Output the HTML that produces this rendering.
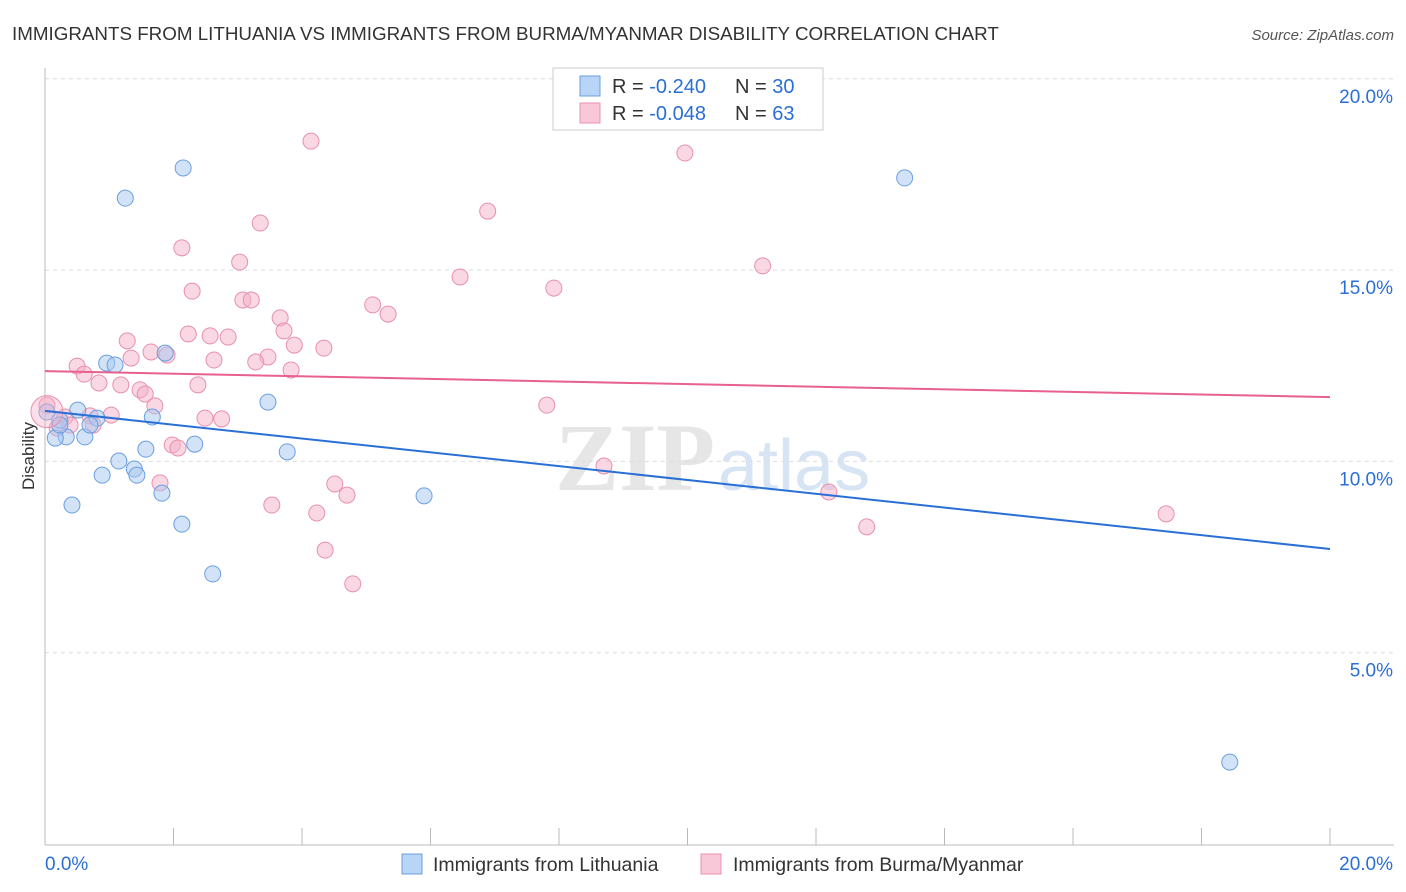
<!DOCTYPE html>
<html><head><meta charset="utf-8">
<style>
body{margin:0;background:#fff;font-family:"Liberation Sans",sans-serif;}
svg{display:block}
</style></head>
<body>
<svg id="chart" width="1406" height="892" viewBox="0 0 1406 892">
<text x="12" y="40" font-size="18.8" fill="#333">IMMIGRANTS FROM LITHUANIA VS IMMIGRANTS FROM BURMA/MYANMAR DISABILITY CORRELATION CHART</text>
<text x="1394" y="40" font-size="15" fill="#555" font-style="italic" text-anchor="end">Source: ZipAtlas.com</text>
<text x="715" y="490" font-size="96" fill="#e6e6e6" text-anchor="end" font-family="Liberation Serif,serif" font-weight="bold">ZIP</text>
<text x="718" y="490" font-size="72" fill="#d6e4f4">atlas</text>
<text transform="translate(34,456) rotate(-90)" font-size="17" fill="#333" text-anchor="middle">Disability</text>
<g id="grid"></g><g id="marks"></g>
<g>
<rect x="553" y="68" width="270" height="62" fill="#fff" stroke="#ccc"/>
<rect x="580" y="76" width="20" height="20" fill="#b8d4f6" stroke="#6a9fe0"/>
<rect x="580" y="103" width="20" height="20" fill="#f9c8d8" stroke="#e890b0"/>
<text x="612" y="93" font-size="20" fill="#333">R = <tspan fill="#2a6fd6">-0.240</tspan></text>
<text x="735" y="93" font-size="20" fill="#333">N = <tspan fill="#2a6fd6">30</tspan></text>
<text x="612" y="120" font-size="20" fill="#333">R = <tspan fill="#2a6fd6">-0.048</tspan></text>
<text x="735" y="120" font-size="20" fill="#333">N = <tspan fill="#2a6fd6">63</tspan></text>
</g>
<g>
<rect x="402" y="854" width="20" height="20" fill="#b8d4f6" stroke="#6a9fe0"/>
<text x="433" y="871" font-size="19.5" fill="#333">Immigrants from Lithuania</text>
<rect x="701" y="854" width="20" height="20" fill="#f9c8d8" stroke="#e890b0"/>
<text x="733" y="871" font-size="19.5" fill="#333">Immigrants from Burma/Myanmar</text>
</g>
</svg>
<script>
const yTicks=[5,10,15,20];
const yTickLabels=["5.0%","10.0%","15.0%","20.0%"];
const xTickLabels=["0.0%","20.0%"];
const blueX=[2.15,1.25,13.38,0.96,1.09,1.87,3.47,0.51,0.81,1.67,0.23,0.33,0.16,0.62,2.33,1.57,3.77,1.15,0.89,1.39,1.43,1.82,0.42,5.90,2.13,2.61,18.44,0.03,0.23,0.70];
const blueY=[17.67,16.88,17.41,12.57,12.52,12.83,11.55,11.34,11.13,11.16,11.08,10.64,10.61,10.64,10.45,10.32,10.25,10.01,9.64,9.80,9.64,9.17,8.86,9.10,8.36,7.06,2.14,11.29,10.95,10.95];
const pinkX=[4.14,9.96,6.89,3.35,2.13,3.03,11.17,6.46,7.92,2.29,3.08,3.21,5.10,5.34,3.66,3.72,2.23,2.57,2.85,1.28,3.88,4.34,1.65,1.90,1.34,3.47,2.63,3.28,0.50,3.83,0.61,0.84,1.18,2.38,1.48,1.56,1.71,7.81,0.03,1.03,0.70,0.31,2.49,2.75,0.75,0.39,0.19,1.98,2.07,8.70,1.79,4.51,4.70,12.20,3.53,4.23,17.45,12.79,4.36,4.79];
const pinkY=[18.37,18.06,16.54,16.23,15.58,15.21,15.11,14.82,14.53,14.45,14.22,14.22,14.09,13.85,13.75,13.41,13.33,13.28,13.25,13.15,13.04,12.96,12.86,12.78,12.70,12.73,12.65,12.60,12.49,12.39,12.28,12.05,12.00,12.00,11.87,11.76,11.45,11.47,11.47,11.21,11.19,11.16,11.13,11.11,10.95,10.95,10.87,10.43,10.35,9.88,9.44,9.41,9.12,9.20,8.86,8.65,8.63,8.29,7.68,6.80];
const blueTrend=[11.32,7.71];
const pinkTrend=[12.36,11.68];
const NS="http://www.w3.org/2000/svg";
const X0=45,X1=1330,Y0=844,PXP=38.26;
const sx=v=>X0+(v/20)*(X1-X0);
const sy=v=>Y0-v*PXP;
function mk(tag,attrs,parent){const e=document.createElementNS(NS,tag);for(const k in attrs)e.setAttribute(k,attrs[k]);parent.appendChild(e);return e;}
const grid=document.getElementById('grid'),marks=document.getElementById('marks');
yTicks.forEach((t,i)=>{
 const l=mk('line',{x1:X0,x2:1394,y1:sy(t),y2:sy(t),stroke:'#ddd','stroke-dasharray':'4,4'},grid);
 
 
 const tx=mk('text',{x:1393,y:sy(t)+24,'font-size':19,fill:'#2a6fd6','text-anchor':'end'},grid);
 tx.textContent=yTickLabels[i];
 
 
});
const ax=mk('line',{x1:X0,x2:X0,y1:68,y2:845,stroke:'#bbb'},grid);


const bx=mk('line',{x1:X0,x2:1394,y1:845,y2:845,stroke:'#bbb'},grid);


for(let i=0;i<=10;i++){
 const t=mk('line',{x1:sx(i*2),x2:sx(i*2),y1:828,y2:845,stroke:'#bbb'},grid);
 
 
}
[[0,'start',X0],[20,'end',1393]].forEach((a,i)=>{
 const t=mk('text',{x:a[2],y:870,'font-size':19,fill:'#2a6fd6','text-anchor':a[1]},grid);
 t.textContent=xTickLabels[i];
 
 
});
function pts(xs,ys,fill,stroke,name){
 xs.forEach((x,i)=>{
  const c=mk('circle',{cx:sx(x),cy:sy(ys[i]),r:8,fill:fill,'fill-opacity':0.5,stroke:stroke,'stroke-width':1},marks);
  
  
 });
}
pts(pinkX,pinkY,'#f4b0c8','#e890b0','point-burma');
pts(blueX,blueY,'#a8c8f0','#6a9fe0','point-lithuania');
const big=mk('circle',{cx:sx(0.03),cy:sy(11.3),r:16,fill:'#f4b0c8','fill-opacity':0.4,stroke:'#e890b0'},marks);


const bl=mk('line',{x1:sx(0),y1:sy(blueTrend[0]),x2:sx(20),y2:sy(blueTrend[1]),stroke:'#2a6fd6','stroke-width':2},marks);


const pl=mk('line',{x1:sx(0),y1:sy(pinkTrend[0]),x2:sx(20),y2:sy(pinkTrend[1]),stroke:'#e8608c','stroke-width':2},marks);


</script>
</body></html>
